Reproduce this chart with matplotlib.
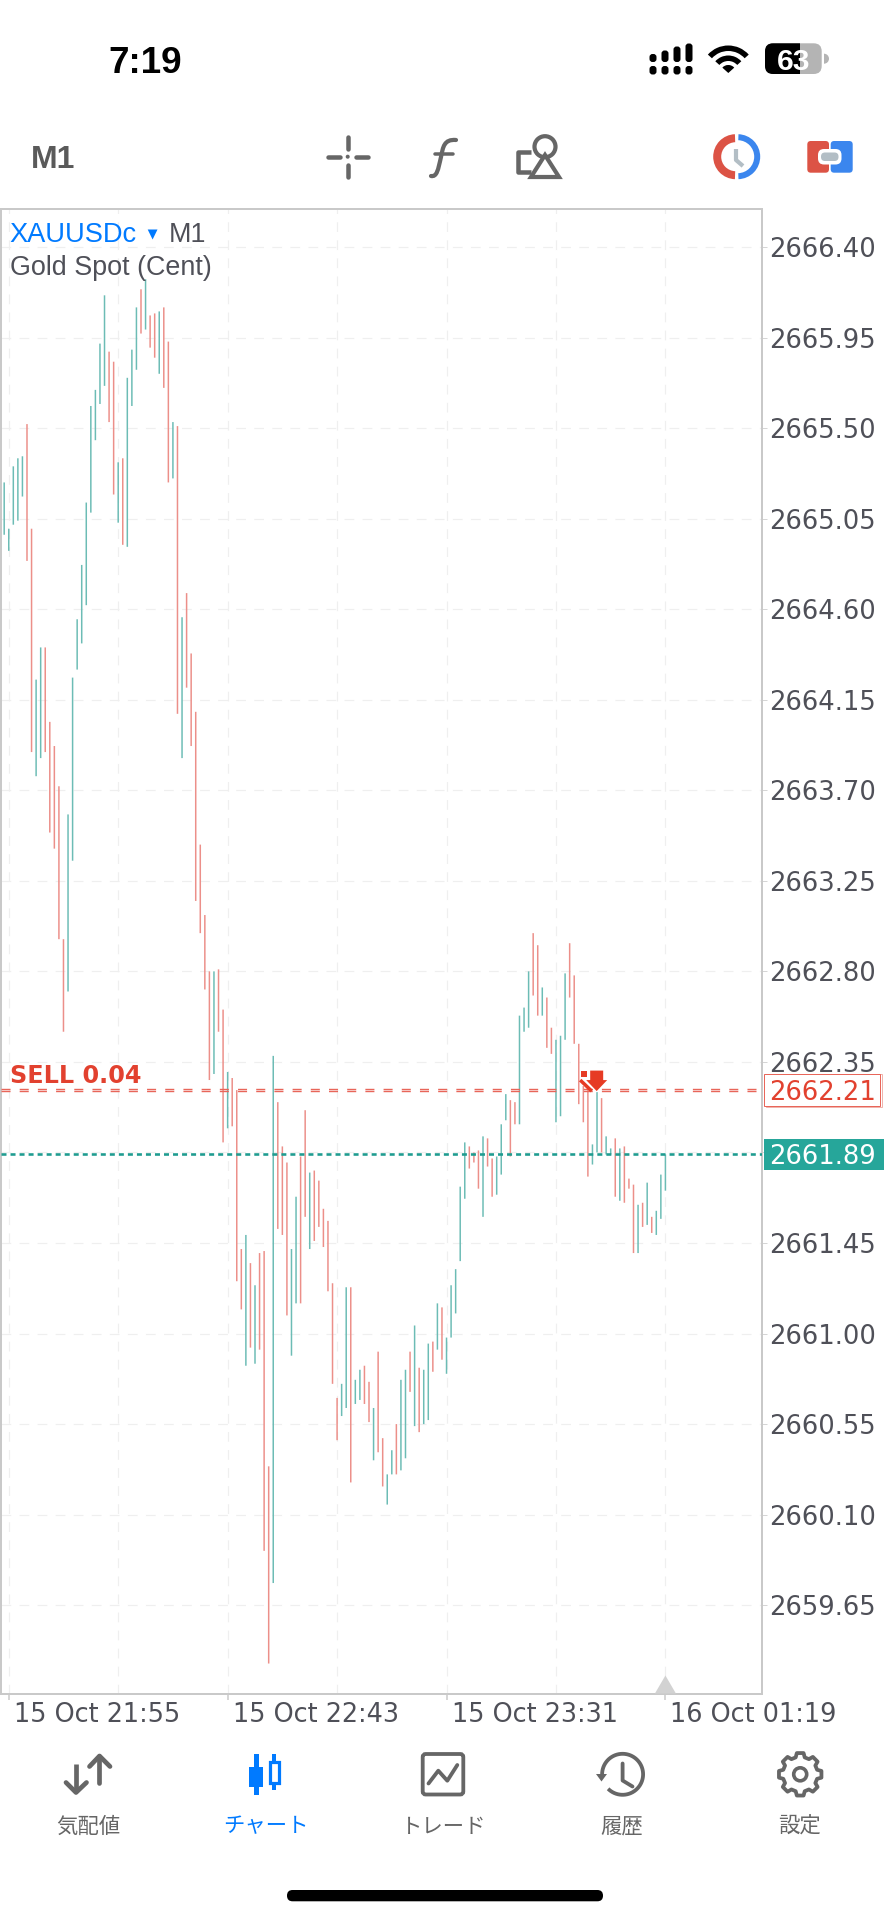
import matplotlib
matplotlib.use('Agg')

import matplotlib.pyplot as plt
import numpy as np
from matplotlib.patches import Circle, FancyBboxPatch, Polygon, Rectangle, Wedge
from matplotlib.path import Path
from matplotlib.patches import PathPatch
from matplotlib.transforms import ScaledTranslation

# one high/low pair per minute
highs = [
    2665.23, 2665.00, 2665.31, 2665.35, 2665.36, 2665.52, 2665.00, 2664.25, 2664.41, 2664.41,
    2664.04, 2663.92, 2663.72, 2662.96, 2663.58, 2664.26, 2664.55, 2664.82, 2665.13, 2665.61,
    2665.69, 2665.92, 2666.16, 2665.88, 2665.83, 2665.33, 2665.35, 2665.75, 2665.89, 2666.10,
    2666.19, 2666.24, 2666.06, 2666.07, 2666.08, 2666.10, 2665.93, 2665.53, 2665.51, 2664.56,
    2664.68, 2664.38, 2664.09, 2663.43, 2663.08, 2662.80, 2662.80, 2662.81, 2662.61, 2662.30,
    2662.27, 2662.21, 2661.42, 2661.49, 2661.35, 2661.24, 2661.40, 2661.41, 2660.34, 2662.38,
    2662.15, 2661.93, 2661.85, 2661.42, 2661.68, 2661.88, 2662.11, 2661.80, 2661.81, 2661.76,
    2661.62, 2661.56, 2661.25, 2660.68, 2660.75, 2661.23, 2661.23, 2660.77, 2660.82, 2660.84,
    2660.76, 2660.63, 2660.91, 2660.48, 2660.30, 2660.42, 2660.55, 2660.77, 2660.82, 2660.91,
    2661.04, 2660.83, 2660.82, 2660.95, 2660.96, 2661.15, 2661.13, 2660.98, 2661.24, 2661.32,
    2661.73, 2661.95, 2661.93, 2661.90, 2661.91, 2661.98, 2661.97, 2661.87, 2661.88, 2662.04,
    2662.19, 2662.16, 2662.15, 2662.58, 2662.62, 2662.80, 2662.99, 2662.93, 2662.72, 2662.67,
    2662.52, 2662.46, 2662.48, 2662.79, 2662.94, 2662.78, 2662.44, 2662.23, 2662.21, 2661.94,
    2662.20, 2662.17, 2661.98, 2661.92, 2661.97, 2661.92, 2661.93, 2661.77, 2661.74, 2661.64,
    2661.65, 2661.75, 2661.58, 2661.61, 2661.79, 2661.89,
]
lows = [
    2664.97, 2664.89, 2665.02, 2665.04, 2665.16, 2664.84, 2663.89, 2663.77, 2663.86, 2663.89,
    2663.49, 2663.41, 2662.96, 2662.50, 2662.70, 2663.35, 2664.30, 2664.43, 2664.62, 2665.08,
    2665.44, 2665.62, 2665.71, 2665.53, 2665.17, 2665.03, 2664.92, 2664.91, 2665.61, 2665.79,
    2665.97, 2665.99, 2665.90, 2665.85, 2665.77, 2665.70, 2665.23, 2665.25, 2664.08, 2663.86,
    2664.21, 2663.92, 2663.15, 2662.99, 2662.71, 2662.26, 2662.29, 2662.50, 2661.95, 2662.02,
    2662.03, 2661.26, 2661.12, 2660.84, 2660.93, 2660.85, 2660.92, 2659.92, 2659.36, 2659.76,
    2661.52, 2661.49, 2661.09, 2660.89, 2661.15, 2661.15, 2661.58, 2661.42, 2661.46, 2661.53,
    2661.43, 2661.21, 2660.75, 2660.47, 2660.59, 2660.63, 2660.26, 2660.65, 2660.67, 2660.65,
    2660.56, 2660.37, 2660.41, 2660.24, 2660.15, 2660.30, 2660.30, 2660.32, 2660.38, 2660.71,
    2660.54, 2660.51, 2660.55, 2660.57, 2660.81, 2660.92, 2660.87, 2660.80, 2660.98, 2661.10,
    2661.36, 2661.67, 2661.82, 2661.85, 2661.72, 2661.58, 2661.83, 2661.68, 2661.69, 2661.79,
    2662.06, 2661.88, 2662.04, 2662.04, 2662.50, 2662.52, 2662.68, 2662.58, 2662.58, 2662.42,
    2662.39, 2662.05, 2662.08, 2662.46, 2662.67, 2662.44, 2662.14, 2662.05, 2661.78, 2661.84,
    2661.90, 2661.90, 2661.89, 2661.89, 2661.68, 2661.66, 2661.65, 2661.72, 2661.40, 2661.40,
    2661.53, 2661.54, 2661.50, 2661.49, 2661.57, 2661.71,
]
directions = (
    'uuuuudduud' 'dddduuuuuu' 'uuudduduuu' 'dudduddudu' 'dddddduddu'
    'dddududddu' 'ddduuddudd' 'dddduuduud' 'dudduuduud' 'uduududuuu'
    'uudddudduu' 'udduuuddud' 'duuudddddu' 'uduududddu' 'duduuu'
)

price_ticks = [2659.65, 2660.10, 2660.55, 2661.00, 2661.45, 2661.90, 2662.35, 2662.80,
               2663.25, 2663.70, 2664.15, 2664.60, 2665.05, 2665.50, 2665.95, 2666.40]
price_labels = ['2659.65', '2660.10', '2660.55', '2661.00', '2661.45', '', '2662.35', '2662.80',
                '2663.25', '2663.70', '2664.15', '2664.60', '2665.05', '2665.50', '2665.95', '2666.40']
time_ticks = [1, 49, 97, 145]
time_labels = ['15 Oct 21:55', '15 Oct 22:43', '15 Oct 23:31', '16 Oct 01:19']
minor_time_ticks = [25, 73, 121]

sell_price = 2662.21
last_price = 2661.89
sell_index = 129.6

nav_labels = ['気配値', 'チャート', 'トレード', '履歴', '設定']
nav_x = [88, 265.6, 444, 622, 800]

TEAL = '#26a69a'
RED = '#e8665a'
BLUE = '#007aff'
ICON = '#666666'
TEXT = '#4f5058'

W, H = 887, 1920
px = 0.72  # one image pixel in points at dpi 100

plt.rcParams['lines.scale_dashes'] = False
plt.rcParams['font.family'] = ['Liberation Sans', 'Noto Sans CJK JP', 'DejaVu Sans']

fig = plt.figure(figsize=(W / 100, H / 100), dpi=100, facecolor='white')

# chart
left, right, top, bottom = 1, 762, 209, 1693.5
ax = fig.add_axes([left / W, 1 - bottom / H, (right - left) / W, (bottom - top) / H])
ax.set_xlim(-0.70, 166.18)
ax.set_ylim(2659.211, 2666.589)
ax.set_axisbelow(True)

for name in ax.spines:
    ax.spines[name].set_color('#c9c9c9')
    ax.spines[name].set_linewidth(2 * px)

ax.set_yticks(price_ticks)
ax.set_yticklabels(price_labels, family='DejaVu Sans', fontsize=18.6, color=TEXT)
ax.yaxis.tick_right()
ax.tick_params(axis='y', length=5 * px, width=px, color='#d5d5d5', pad=1.2)

ax.set_xticks(time_ticks)
ax.set_xticklabels(time_labels, family='DejaVu Sans', fontsize=18.4, color=TEXT, ha='left')
ax.tick_params(axis='x', length=6 * px, width=1.5 * px, color='#c9c9c9', pad=1.5)
for label in ax.get_xticklabels():
    label.set_transform(label.get_transform() + ScaledTranslation(5 / 100, 0, fig.dpi_scale_trans))

grid_dash = (0, (7, 6))
for p in price_ticks:
    ax.axhline(p, color='#efefef', lw=1.2 * px, ls=grid_dash, zorder=1)
for t in time_ticks + minor_time_ticks:
    ax.axvline(t, color='#efefef', lw=1.2 * px, ls=grid_dash, zorder=1)

index = np.arange(len(highs))
up = np.array([d == 'u' for d in directions])
bars = ax.vlines(index[up], np.array(lows)[up], np.array(highs)[up], colors='#6cbcb5',
                 linewidth=1.5 * px, zorder=3)
bars.set_snap(False)
bars = ax.vlines(index[~up], np.array(lows)[~up], np.array(highs)[~up], colors='#ec8f89',
                 linewidth=1.5 * px, zorder=3)
bars.set_snap(False)

order_dash = (0, (6.5, 6.6))
for offset in [0.007, -0.007]:
    ax.axhline(sell_price + offset, color=RED, lw=1.4 * px, ls=order_dash, zorder=4)
ax.axhline(last_price, color='#1f9c90', lw=2.6 * px, ls=(0, (3.6, 2.9)), zorder=4)

# everything else is laid over the whole figure in image pixels
ui = fig.add_axes([0, 0, 1, 1], zorder=5)
ui.set_xlim(0, W)
ui.set_ylim(H, 0)
ui.axis('off')
ui.patch.set_alpha(0)


def to_px(i, p):
    x, y = ax.transData.transform((i, p))
    return x, H - y


def stroke(points, color=ICON, width=4.5, cap='round', closed=False):
    pts = list(points)
    if closed:
        pts.append(pts[0])
    xs, ys = zip(*pts)
    ui.plot(xs, ys, color=color, lw=width * px, solid_capstyle=cap, solid_joinstyle='round')


def rbox(x0, y0, x1, y1, r, color, **kw):
    box = FancyBboxPatch((x0 + r, y0 + r), x1 - x0 - 2 * r, y1 - y0 - 2 * r,
                         boxstyle='round,pad=%g' % r, fc=color, ec='none', **kw)
    ui.add_patch(box)
    return box


# chart header
ui.text(9, 241.5, 'XAUUSDc', color=BLUE, fontsize=19.6, va='baseline')
ui.add_patch(Polygon([(147.7, 229.5), (157.5, 229.5), (152.6, 239.5)], fc=BLUE, ec='none'))
ui.text(169, 241.5, 'M1', color=TEXT, fontsize=19.4, va='baseline')
ui.text(10, 275, 'Gold Spot (Cent)', color=TEXT, fontsize=19.4, va='baseline')
ui.text(10, 1083, 'SELL 0.04', color='#e2412f', fontsize=17.2, family='DejaVu Sans',
        weight='bold', va='baseline')

# price tags
sell_y = to_px(0, sell_price)[1]
last_y = to_px(0, last_price)[1]
ui.add_patch(Rectangle((766, sell_y - 16.5), 116, 33, fc='white', ec='#f0b5ae', lw=px))
ui.add_patch(Rectangle((764.5, sell_y - 16.5), 115.5, 32.5, fc='white', ec=RED, lw=px))
ui.text(769, sell_y, '2662.21', color='#e2412f', family='DejaVu Sans', fontsize=18.6,
        va='center_baseline')
ui.add_patch(Rectangle((764, last_y - 15.5), 120.5, 31.5, fc=TEAL, ec='none'))
ui.text(769, last_y, '2661.89', color='white', family='DejaVu Sans', fontsize=18.6,
        va='center_baseline')

# sell arrow at the order open
ax_x, ax_y = to_px(sell_index, sell_price)
arrow = [(-5, -19.5), (8, -19.5), (8, -10), (12, -10), (1.5, 1), (-9, -10), (-5, -10)]
ui.add_patch(Polygon([(ax_x + a, ax_y + b) for a, b in arrow], fc='#e63b24', ec='none'))
ui.add_patch(Rectangle((ax_x - 13.7, ax_y - 19.5), 6, 6, fc='#e63b24', ec='none'))
stroke([(ax_x - 15, ax_y - 10), (ax_x - 3.5, ax_y + 1)], color='#e63b24', width=3.5, cap='butt')

# last bar marker on the time axis
tri_x = to_px(time_ticks[-1], sell_price)[0]
ui.add_patch(Polygon([(tri_x - 10.5, bottom), (tri_x, 1675.5), (tri_x + 10.5, bottom)], fc='#d2d2d2', ec='none'))

# status bar
ui.text(145, 59.5, '7:19', color='black', fontsize=26.6, weight='bold', ha='center', va='center_baseline')
for i, y0 in enumerate([54, 50.5, 46.5, 43.5]):
    x0 = 649.5 + 12 * i
    rbox(x0, y0, x0 + 7, 62, 3, 'black')
    rbox(x0, 66, x0 + 7, 74.5, 3, 'black')
wx, wy = 728.3, 73
for r, width in [(27.5, 5.5), (17.5, 5.5)]:
    ui.add_patch(Wedge((wx, wy), r, 222, 318, width=width, fc='black', ec='none'))
ui.add_patch(Wedge((wx, wy), 8, 222, 318, fc='black', ec='none'))

battery = rbox(765, 43.3, 821.7, 74, 8, '#b4b4b4')
dark = rbox(765, 43.3, 821.7, 74, 8, 'black')
dark.set_clip_path(Rectangle((765, 43), 35.3, 32, transform=ui.transData))
ui.add_patch(Wedge((824, 58.7), 5, 270, 90, fc='#b4b4b4', ec='none'))
ui.text(793.5, 59, '63', color='white', fontsize=21.5, weight='bold', ha='center', va='center_baseline')

# toolbar
ui.text(31, 168, 'M1', color='#5a5a5a', fontsize=23, weight='bold', va='baseline')
cx, cy = 347.7, 156.7
stroke([(cx, cy - 20), (cx, cy - 8)])
stroke([(cx, cy + 8), (cx, cy + 20)])
stroke([(cx - 20, cy), (cx - 8, cy)])
stroke([(cx + 8, cy), (cx + 20, cy)])
ui.add_patch(Circle((cx, cy), 2, fc=ICON, ec='none'))

f_path = Path([(456, 140), (444, 139), (443, 147), (441, 157), (438, 170), (437, 177), (431, 176)],
              [Path.MOVETO, Path.CURVE4, Path.CURVE4, Path.CURVE4, Path.CURVE4, Path.CURVE4, Path.CURVE4])
ui.add_patch(PathPatch(f_path, fc='none', ec=ICON, lw=4.2 * px, capstyle='round'))
stroke([(435, 153.5), (453, 153.5)], width=3.5)

stroke([(531, 152), (518.5, 152), (518.5, 171.5), (531, 171.5)], width=4.5, cap='butt')
ui.add_patch(Circle((545, 146.7), 10.5, fc='none', ec=ICON, lw=4.2 * px))
ui.add_patch(Polygon([(545, 155), (531, 177), (559, 177)], fc='white', ec=ICON, lw=4.2 * px, joinstyle='miter', zorder=3))

ccx, ccy = 736.7, 156.7
ui.add_patch(Wedge((ccx - 1, ccy), 22.5, 92, 268, width=8, fc='#dc5345', ec='none'))
ui.add_patch(Wedge((ccx + 1, ccy), 22.5, -88, 88, width=6, fc='#3b86ee', ec='none'))
stroke([(736, 149), (736, 160), (743, 166)], color='#b3bec5', width=4.2, cap='butt')

rbox(807.3, 141, 829, 172.7, 3.5, '#dc5345')
rbox(830.7, 141, 852.7, 172.7, 3.5, '#3b86ee')
rbox(818, 149, 841.5, 164.5, 6, 'white')
rbox(821, 152.5, 838.5, 161, 4, '#b3bec5')

# bottom navigation
stroke([(76, 1764), (76, 1792)], width=4.7, cap='butt')
stroke([(66, 1782.5), (76, 1792.5), (86.5, 1782.5)], width=4.7)
stroke([(99.5, 1756), (99.5, 1782.5)], width=4.7)
stroke([(89.5, 1766.5), (99.5, 1756), (110, 1766.5)], width=4.7)

ui.add_patch(Rectangle((254.5, 1754), 4.5, 41, fc=BLUE, ec='none'))
ui.add_patch(Rectangle((249.5, 1766.7), 14, 20, fc=BLUE, ec='none'))
ui.add_patch(Rectangle((272, 1754), 4.5, 36, fc=BLUE, ec='none'))
ui.add_patch(Rectangle((269.8, 1762), 9.6, 20.5, fc='white', ec=BLUE, lw=3.2 * px, zorder=3))

ui.add_patch(FancyBboxPatch((422.7, 1754), 40.6, 40.5, boxstyle='round,pad=0,rounding_size=3', fc='none',
                            ec=ICON, lw=3.8 * px))
stroke([(428.5, 1783.5), (438.3, 1770.7), (447.3, 1780.7), (457.3, 1765)], width=3.8)

hx, hy = 622.6, 1774.3
theta = np.radians(np.linspace(180, 495, 60))
stroke(zip(hx + 20.5 * np.cos(theta), hy + 20.5 * np.sin(theta)), width=3.8, cap='butt')
ui.add_patch(Polygon([(596, 1774), (607, 1774), (601.5, 1781.5)], fc=ICON, ec='none'))
stroke([(hx, 1763.5), (hx, 1780.5), (632.5, 1786.5)], width=3.8)

gx, gy = 800.2, 1774.3
gear = []
for i in range(8):
    a = i * 45
    for r, da in [(17.5, -15), (21.5, -9), (21.5, 9), (17.5, 15)]:
        t = np.radians(a + da)
        gear.append((gx + r * np.cos(t), gy + r * np.sin(t)))
ui.add_patch(Polygon(gear, fc='none', ec=ICON, lw=3.8 * px, joinstyle='round'))
ui.add_patch(Circle((gx, gy), 6.5, fc='none', ec=ICON, lw=3.6 * px))

for i in range(len(nav_labels)):
    color = BLUE if i == 1 else ICON
    ui.text(nav_x[i], 1824, nav_labels[i], color=color, fontsize=15.4, ha='center', va='center_baseline',
            family=['Noto Sans CJK JP', 'DejaVu Sans'])

rbox(287, 1890, 603, 1901.3, 5.6, 'black')

fig.savefig('out.png', dpi=100, facecolor='white')
plt.close()
